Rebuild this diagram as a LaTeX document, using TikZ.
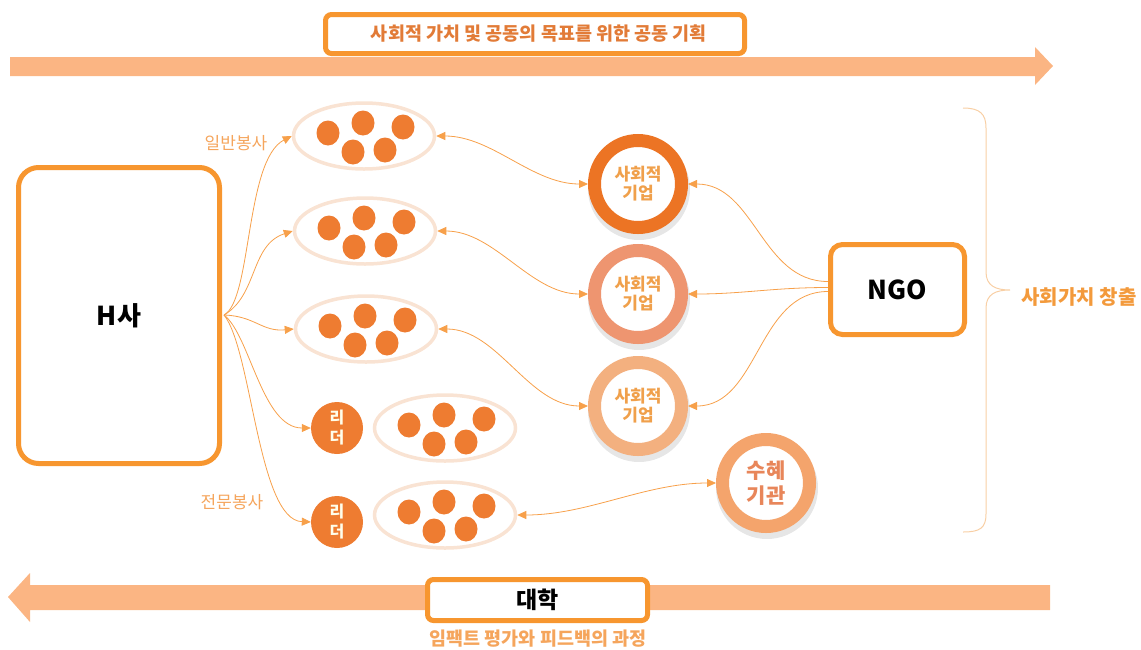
\documentclass[tikz,border=0pt]{standalone}
\usepackage{fontspec}
\setmainfont{Noto Sans CJK KR}
\usetikzlibrary{arrows.meta,shapes.geometric}
\definecolor{boxor}{HTML}{F7962F}
\definecolor{bandor}{HTML}{FBB583}
\definecolor{titleor}{HTML}{E27B37}
\definecolor{labor}{HTML}{F5A55C}
\definecolor{dotor}{HTML}{EE7C31}
\definecolor{ellc}{HTML}{F9E3D3}
\definecolor{ringa}{HTML}{EC7424}
\definecolor{ringb}{HTML}{EE9570}
\definecolor{ringc}{HTML}{F3B07F}
\definecolor{ringd}{HTML}{F4A46C}
\definecolor{setext}{HTML}{F0A04B}
\definecolor{bentext}{HTML}{E8865A}
\definecolor{conn}{HTML}{F7A04A}
\definecolor{bracec}{HTML}{F8CFA5}
\definecolor{valtext}{HTML}{F39A3C}
\tikzset{
  obox/.style={draw=boxor, line width=5pt, fill=white, rounded corners=#1, inner sep=0pt},
  grp/.style={ellipse, draw=ellc, line width=3.5pt, fill=white, minimum width=141pt, minimum height=66pt, inner sep=0pt},
  ring/.style={circle, draw=#1, line width=13pt, fill=white, minimum size=87pt, inner sep=0pt, align=center},
  leader/.style={circle, fill=dotor, minimum size=52pt, inner sep=0pt, align=center, text=white!92!yellow, font=\fontsize{16}{20}\selectfont\bfseries},
  cn/.style={draw=conn, line width=0.8pt},
  tip/.style={-{Triangle[length=9pt,width=8pt]}},
  tips/.style={{Triangle[length=9pt,width=8pt]}-{Triangle[length=9pt,width=8pt]}},
  setxt/.style={text=setext, font=\fontsize{17}{19}\selectfont\bfseries},
  lab/.style={text=labor, font=\fontsize{17}{18}\selectfont},
  shadowc/.style={fill=black!22, opacity=0.45}
}
\newcommand\grpdots[2]{%
  \begin{scope}[shift={(#1,#2)}]
    \foreach \dx/\dy in {-36/-3,-1/-13,39/-9,-11/16,21/14}
      \fill[dotor] (\dx,\dy) ellipse [x radius=11.5, y radius=12.5];
  \end{scope}}
\begin{document}
\begin{tikzpicture}[x=1pt,y=-1pt]
\useasboundingbox (0,0) rectangle (1141,649);
% big arrows
\fill[bandor] (10,57) -- (1035,57) -- (1035,47) -- (1053,66) -- (1035,85) -- (1035,76) -- (10,76) -- cycle;
\fill[bandor] (1050,585) -- (30,585) -- (30,573) -- (8,597) -- (30,622) -- (30,610) -- (1050,610) -- cycle;
% title and bottom boxes
\node[obox=6pt, minimum width=419pt, minimum height=39pt, text=titleor, font=\fontsize{18.5}{20}\selectfont\bfseries] (title) at (535,34) {\hspace*{8pt}사회적 가치 및 공동의 목표를 위한 공동 기획};
\node[obox=6pt, minimum width=220pt, minimum height=41pt, font=\fontsize{23}{24}\selectfont\bfseries] (univ) at (537.5,600) {대학};
\node[text=labor, font=\fontsize{18.5}{20}\selectfont\bfseries] (eval) at (538,639) {임팩트 평가와 피드백의 과정};
% H company
\node[obox=20pt, minimum width=201pt, minimum height=296pt, font=\fontsize{26}{28}\selectfont\bfseries] (hs) at (119,315.5) {H사};
\coordinate (ho) at (224,315);
% groups
\node[grp] (e1) at (364,136) {};
\node[grp] (e2) at (365,231) {};
\node[grp] (e3) at (366,329) {};
\node[grp] (e4) at (445,428) {};
\node[grp] (e5) at (445,515) {};
\grpdots{364}{136}
\grpdots{365}{231}
\grpdots{366}{329}
\grpdots{445}{428}
\grpdots{445}{515}
% leaders
\node[leader] (l1) at (337,428) {리\\더};
\node[leader] (l2) at (337,522) {리\\더};
% labels
\node[lab] (gen) at (236,143) {일반봉사};
\node[lab] (pro) at (232,502) {전문봉사};
% social enterprises
\fill[shadowc] (639,189) circle (51);
\fill[shadowc] (639,299) circle (51);
\fill[shadowc] (639,411) circle (51);
\fill[shadowc] (767,488) circle (51);
\node[ring=ringa, setxt] (se1) at (638,184) {사회적\\기업};
\node[ring=ringb, setxt] (se2) at (638,294) {사회적\\기업};
\node[ring=ringc, setxt] (se3) at (638,406) {사회적\\기업};
\node[ring=ringd, text=bentext, font=\fontsize{21}{25}\selectfont\bfseries] (ben) at (766,483) {수혜\\기관};
% NGO
\node[obox=12pt, minimum width=134pt, minimum height=90pt, font=\fontsize{26}{28}\selectfont\bfseries] (ngo) at (897.5,289.5) {NGO};
% brace
\draw[bracec, line width=1pt] (963,108) .. controls (980,108) and (986,114) .. (986,128) -- (986,272) .. controls (986,286) and (996,290) .. (1010,290) .. controls (996,290) and (986,294) .. (986,308) -- (986,514) .. controls (986,528) and (980,532) .. (963,532);
\node[text=valtext, font=\fontsize{20}{22}\selectfont\bfseries, anchor=west] (val) at (1018,297) {사회가치 창출};
% connectors from H
\draw[cn, tip] (ho) .. controls (252,300) and (245,160) .. (e1.west);
\draw[cn, tip] (ho) .. controls (258,295) and (250,245) .. (e2.west);
\draw[cn, tip] (ho) .. controls (255,316) and (262,332) .. (e3.west);
\draw[cn, tip] (ho) .. controls (250,335) and (262,428) .. (l1.west);
\draw[cn, tip] (ho) .. controls (252,350) and (258,520) .. (l2.west);
% groups <-> enterprises
\draw[cn, tips] (e1.east) to[out=0, in=180, looseness=0.9] (se1.west);
\draw[cn, tips] (e2.east) to[out=0, in=180, looseness=0.9] (se2.west);
\draw[cn, tips] (e3.east) to[out=0, in=180, looseness=0.9] (se3.west);
\draw[cn, tips] (e5.east) to[out=0, in=180, looseness=0.9] (ben.west);
% NGO -> enterprises
\draw[cn, tip] ([yshift=8pt]ngo.west) to[out=180, in=0] (se1.east);
\draw[cn, tip] ([yshift=2pt]ngo.west) to[out=180, in=0] (se2.east);
\draw[cn, tip] ([yshift=-2pt]ngo.west) to[out=180, in=0] (se3.east);
\end{tikzpicture}
\end{document}
